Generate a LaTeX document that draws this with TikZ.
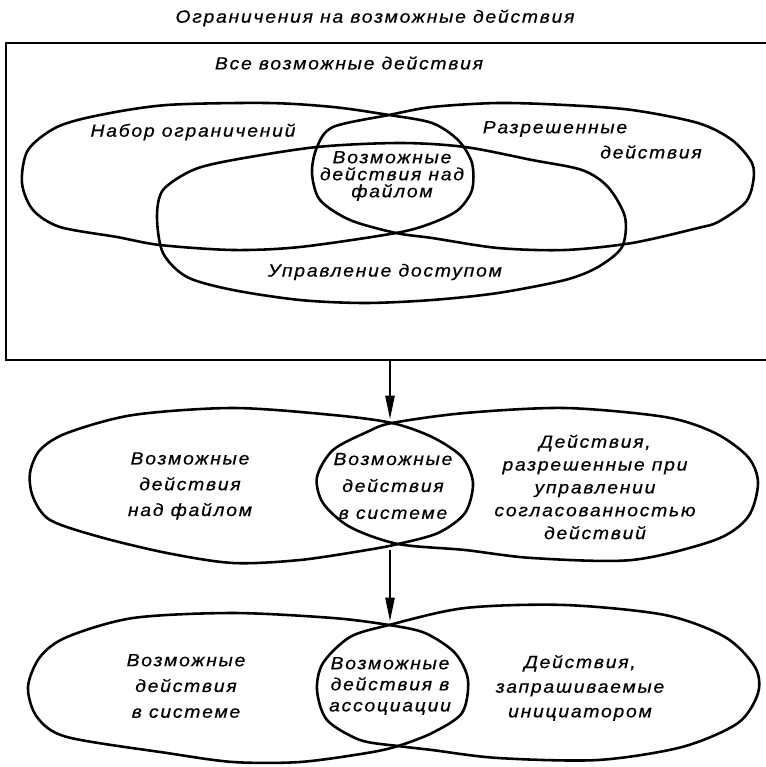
\documentclass[tikz,border=0pt]{standalone}
\usepackage{fontspec}
\newfontfamily\gost[FakeStretch=1.1,LetterSpace=10,FakeBold=0.6]{Liberation Sans}
\usetikzlibrary{arrows.meta}

\begin{document}
\begin{tikzpicture}[x=0.03cm,y=-0.03cm,
	lbl/.style={font=\gost\itshape\fontsize{15}{#1}\selectfont,align=center,inner sep=0pt},
	lbl/.default=15,
	oval/.style={line width=2.2pt,line join=round},
	flow/.style={line width=1.3pt,-{Triangle[length=20pt,width=8pt]}}]
	\useasboundingbox (0,0) rectangle (765,767);
	% title and frame
	\node[lbl] (title) at (375,18) {Ограничения на возможные действия};
	\draw[line width=1.4pt] (6,43) rectangle (775,360);
	\node[lbl] (all) at (349,63) {Все возможные действия};
	% upper diagram
	\draw[oval] plot[smooth cycle] coordinates {(389,115) (333,107) (267,103) (167,105) (100,115) (57,127)
		(28,150) (22,183) (33,210) (60,227) (117,237) (160,245) (233,250) (300,247) (396,233)
		(432,223) (458,210) (472,190) (472,163) (458,140) (432,123)};
	\draw[oval] plot[smooth cycle] coordinates {(389,115) (432,107) (498,103) (565,105) (632,110) (698,123)
		(732,140) (752,163) (753,183) (745,203) (718,222) (698,228) (632,243) (565,250) (498,248)
		(432,238) (396,233) (350,220) (320,200) (312,173) (317,147) (333,127)};
	\draw[oval] plot[smooth cycle] coordinates {(157,217) (163,190) (193,170) (233,160) (317,147) (400,143)
		(465,147) (532,160) (582,170) (608,187) (625,217) (622,247) (598,267) (565,280) (498,293)
		(432,300) (365,303) (300,300) (233,290) (187,277) (163,253)};
	\node[lbl] (constr) at (193,132) {Набор ограничений};
	\node[lbl] (perm) at (555,129) {Разрешенные};
	\node[lbl] (permb) at (651,152) {действия};
	\node[lbl=14.5] (fileops) at (392,176) {Возможные\\действия над\\файлом};
	\node[lbl] (access) at (385,272) {Управление доступом};
	% middle diagram
	\draw[oval] plot[smooth cycle] coordinates {(392,423) (333,415) (233,408) (133,415) (67,433) (40,450)
		(30,473) (33,497) (50,520) (100,537) (167,553) (233,563) (300,560) (367,550) (398,544)
		(438,533) (465,513) (473,483) (462,457) (432,437)};
	\draw[oval] plot[smooth cycle] coordinates {(392,423) (465,413) (565,408) (665,417) (715,433) (748,457)
		(758,483) (748,517) (715,540) (632,560) (532,558) (465,550) (398,544)
		(350,527) (323,503) (317,477) (333,450) (367,432)};
	\node[lbl=22] (fileset) at (190,486) {Возможные\\действия\\над файлом};
	\node[lbl=23] (sysset) at (393,486) {Возможные\\действия\\в системе};
	\node[lbl=19.5] (consist) at (595,487) {Действия,\\разрешенные при\\управлении\\согласованностью\\действий};
	% lower diagram
	\draw[oval] plot[smooth cycle] coordinates {(389,625) (333,618) (233,613) (133,618) (67,637) (40,657)
		(28,687) (37,717) (67,737) (167,753) (233,762) (300,762) (367,753) (398,746)
		(432,733) (462,713) (468,680) (455,653) (425,633)};
	\draw[oval] plot[smooth cycle] coordinates {(389,625) (465,608) (565,605) (665,615) (725,637) (755,667)
		(758,693) (738,723) (682,747) (598,760) (498,758) (432,750) (398,746)
		(360,740) (327,720) (317,690) (323,663) (350,637)};
	\node[lbl=22] (sysset2) at (186,686) {Возможные\\действия\\в системе};
	\node[lbl=18] (assoc) at (390,686) {Возможные\\действия в\\ассоциации};
	\node[lbl=21] (init) at (580,688) {Действия,\\запрашиваемые\\инициатором};
	% arrows
	\coordinate (frame-s) at (390,360);
	\coordinate (mid-n) at (390,419);
	\coordinate (mid-s) at (390,550);
	\coordinate (low-n) at (390,621);
	\draw[flow] (frame-s) -- (mid-n);
	\draw[flow] (mid-s) -- (low-n);
\end{tikzpicture}
\end{document}
